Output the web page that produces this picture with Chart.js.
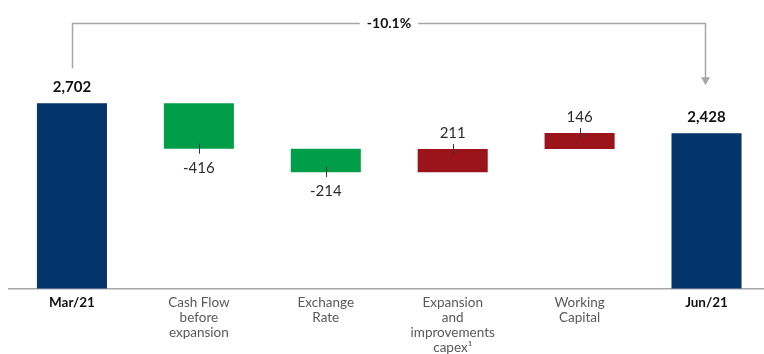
<!DOCTYPE html>
<html>
<head>
<meta charset="utf-8">
<script src="https://cdn.jsdelivr.net/npm/chart.js@4"></script>
<style>
  html, body { margin: 0; padding: 0; background: #ffffff; overflow: hidden; }
  #wrap { width: 764px; height: 354px; }
</style>
</head>
<body>
<div id="wrap"><canvas id="chart" width="764" height="354"></canvas></div>
<script>
// Net debt bridge, Mar/21 -> Jun/21
const categories = [
  'Mar/21',
  ['Cash Flow', 'before', 'expansion'],
  ['Exchange', 'Rate'],
  ['Expansion', 'and', 'improvements', 'capex¹'],
  ['Working', 'Capital'],
  'Jun/21'
];
const values = [2702, -416, -214, 211, 146, 2428];
const kinds = ['total', 'delta', 'delta', 'delta', 'delta', 'total'];
const valueLabels = ['2,702', '-416', '-214', '211', '146', '2,428'];

const COLORS = { total: '#03356a', down: '#009e49', up: '#9a141a' };
const FONT = 'Lato, "DejaVu Sans", sans-serif';

// Floating segments: totals stand on the axis, deltas hang from the running sum
let running = 0;
const spans = values.map((v, i) => {
  if (kinds[i] === 'total') { running = v; return [0, v]; }
  const from = running;
  running += v;
  return [from, running];
});
const points = spans.map((s, i) => ({ x: i, y: kinds[i] === 'total' ? s[1] : [Math.min(s[0], s[1]), Math.max(s[0], s[1])] }));
const barColors = values.map((v, i) => kinds[i] === 'total' ? COLORS.total : (v < 0 ? COLORS.down : COLORS.up));

const valueLabelPlugin = {
  id: 'valueLabels',
  afterDatasetsDraw(chart) {
    const { ctx, scales: { x, y } } = chart;
    ctx.save();
    ctx.textAlign = 'center';
    ctx.textBaseline = 'middle';
    spans.forEach((s, i) => {
      const cx = x.getPixelForValue(i);
      if (kinds[i] === 'total') {
        const top = y.getPixelForValue(s[1]);
        ctx.font = 'bold 15px ' + FONT;
        ctx.fillStyle = '#111111';
        ctx.fillText(valueLabels[i], cx, top - 16);
        return;
      }
      const hi = y.getPixelForValue(Math.max(s[0], s[1]));
      const lo = y.getPixelForValue(Math.min(s[0], s[1]));
      const edge = values[i] < 0 ? lo : hi;
      ctx.strokeStyle = '#333333';
      ctx.lineWidth = 1;
      ctx.beginPath();
      ctx.moveTo(Math.round(cx) + 0.5, edge - 5);
      ctx.lineTo(Math.round(cx) + 0.5, edge + 5);
      ctx.stroke();
      ctx.font = '15px ' + FONT;
      ctx.fillStyle = '#2b2b2b';
      ctx.fillText(valueLabels[i], cx, values[i] < 0 ? edge + 19 : edge - 16);
    });
    ctx.restore();
  }
};

// Bracket from the opening to the closing total with the overall change
const bracketPlugin = {
  id: 'bracket',
  afterDatasetsDraw(chart) {
    const { ctx, chartArea, scales: { x, y } } = chart;
    const first = 0, last = values.length - 1;
    const xL = Math.round(x.getPixelForValue(first)) + 0.5;
    const xR = Math.round(x.getPixelForValue(last)) - 1.5;
    const yTop = Math.round(chartArea.top + 7) + 0.5;
    const yL = y.getPixelForValue(values[first]) - 35;
    const yR = y.getPixelForValue(values[last]) - 48;
    const pct = ((values[last] / values[first] - 1) * 100).toFixed(1) + '%';
    ctx.save();
    ctx.strokeStyle = '#a6a6a6';
    ctx.fillStyle = '#a6a6a6';
    ctx.lineWidth = 1.5;
    ctx.beginPath();
    ctx.moveTo(xL, yL);
    ctx.lineTo(xL, yTop);
    ctx.lineTo(xR, yTop);
    ctx.lineTo(xR, yR - 7);
    ctx.stroke();
    ctx.beginPath();
    ctx.moveTo(xR - 4.5, yR - 8);
    ctx.lineTo(xR + 4.5, yR - 8);
    ctx.lineTo(xR, yR);
    ctx.closePath();
    ctx.fill();
    const mid = (xL + xR) / 2;
    ctx.font = 'bold 14px ' + FONT;
    const w = ctx.measureText(pct).width + 14;
    ctx.fillStyle = '#ffffff';
    ctx.fillRect(mid - w / 2, yTop - 8, w, 16);
    ctx.fillStyle = '#111111';
    ctx.textAlign = 'center';
    ctx.textBaseline = 'middle';
    ctx.fillText(pct, mid, yTop);
    ctx.restore();
  }
};

new Chart(document.getElementById('chart'), {
  type: 'bar',
  data: {
    datasets: [{
      data: points,
      backgroundColor: barColors,
      borderWidth: 0,
      categoryPercentage: 1,
      barPercentage: 0.552
    }]
  },
  options: {
    responsive: false,
    animation: false,
    events: [],
    layout: { padding: { left: 8.5, right: 1, top: 16, bottom: 0 } },
    plugins: { legend: { display: false }, tooltip: { enabled: false } },
    scales: {
      x: {
        type: 'linear',
        offset: false,
        min: -0.5,
        max: 5.445,
        grid: { display: false, drawTicks: false },
        border: { display: true, color: '#a6a6a6', width: 1.5 },
        afterBuildTicks(scale) { scale.ticks = categories.map((_, i) => ({ value: i })); },
        afterFit(scale) { scale.height = 65.5; },
        ticks: {
          autoSkip: false,
          maxRotation: 0,
          padding: 7,
          callback: (v) => categories[v],
          color: (c) => kinds[c.index] === 'total' ? '#111111' : '#595959',
          font: (c) => ({ family: FONT, size: 13.5, weight: kinds[c.index] === 'total' ? 'bold' : 'normal', lineHeight: 1.1 })
        }
      },
      y: {
        display: false,
        min: 1008,
        max: 3500
      }
    }
  },
  plugins: [valueLabelPlugin, bracketPlugin]
});
</script>
</body>
</html>
